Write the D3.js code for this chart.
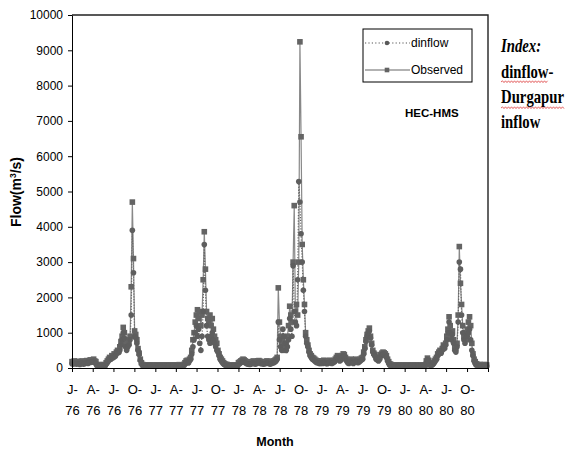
<!DOCTYPE html>
<html><head><meta charset="utf-8">
<script src="https://cdn.jsdelivr.net/npm/d3@7"></script>
<style>
body{margin:0;background:#fff}
svg{display:block}
</style>
</head><body>
<svg id="c" width="566" height="451" font-family="Liberation Sans, Arial, sans-serif"></svg>
<script>
// ---- data (5-day samples, one array per year) ----
const years = [1976, 1977, 1978, 1979, 1980];
const sampleStepDays = 5;

const obs1976 = [180,160,200,170,150,190,170,150,180,200,160,170,190,210,180,200,230,210,220,250,200,180,
  100,80,70,80,90,100,80,90,150,200,250,300,280,350,320,400,380,450,500,480,600,750,900,1150,
  1000,700,600,800,700,900,2300,4700,3100,1050,950,800,550,420,250,150,100,90,80,90,80,70,80,90,80,70,80];
const din1976 = [120,110,140,130,110,140,120,100,130,150,110,120,140,160,130,150,170,160,170,190,150,130,
  70,60,50,60,70,80,60,70,110,150,200,260,240,300,290,350,330,400,450,430,500,650,800,1000,
  850,600,500,600,650,800,1500,3900,2700,900,850,700,500,380,220,130,70,60,60,70,60,50,60,70,60,50,60];

const obs1977 = [90,80,85,80,90,85,80,75,80,90,85,80,90,85,80,80,90,85,80,85,90,95,90,85,90,100,
  150,200,220,180,250,300,500,800,1000,1300,1500,1650,1400,1600,1200,1500,2500,3860,2800,1600,
  1400,1300,1500,1200,1400,1100,900,800,700,500,400,300,250,200,150,120,100,100,90,85,80,90,80,85,90,80,85];
const din1977 = [60,55,60,55,60,55,55,50,55,60,55,55,60,55,50,55,60,55,50,55,60,65,60,55,60,70,
  110,150,170,140,200,250,400,600,800,1000,1200,900,1100,700,500,900,1600,3500,2200,1200,
  900,800,700,900,1000,800,700,600,500,450,350,250,200,150,110,90,70,70,60,55,55,60,55,55,60,55,55];

const obs1978 = [150,170,200,220,250,230,200,180,160,170,150,160,180,200,170,160,180,200,210,190,170,180,160,170,
  180,200,190,170,160,180,190,200,220,250,300,2270,1300,900,700,800,600,500,700,900,1200,1750,1500,1300,
  3000,4600,1600,1800,1500,3000,9240,6550,3500,2500,1800,1000,800,650,500,400,350,300,280,250,220,200,200,180,180];
const din1978 = [100,120,150,170,200,180,150,130,110,120,100,110,130,150,120,110,130,150,160,140,120,130,110,120,
  130,150,140,120,110,130,140,150,170,200,250,1300,800,600,500,1100,900,700,500,600,800,1400,1100,900,
  2900,1600,1300,1200,2500,5280,4700,3800,3000,2200,1600,900,700,600,450,350,300,250,230,200,170,150,150,130,130];

const obs1979 = [200,180,220,200,180,170,200,220,190,180,200,210,250,300,350,300,250,280,350,400,380,300,250,
  200,180,220,250,200,180,220,250,230,200,220,250,280,300,450,600,800,950,1050,1130,900,700,500,420,380,300,280,250,
  300,380,420,450,430,400,350,250,180,120,100,90,80,90,80,85,80,90,85,80,85,80];
const din1979 = [150,130,170,150,130,120,150,170,140,130,150,160,200,250,300,250,200,230,300,350,330,250,200,
  150,130,170,200,150,130,170,200,180,150,170,200,230,250,400,550,750,900,1000,1050,850,650,450,380,330,250,230,200,
  250,330,380,400,380,350,300,200,130,80,60,55,50,55,50,55,50,55,50,50,55,50];

const obs1980 = [90,85,80,85,90,80,85,80,90,85,80,85,90,80,85,90,85,80,90,200,280,220,120,100,120,150,200,250,
  300,400,450,500,480,550,650,600,700,900,1100,1450,1200,900,1050,800,600,550,700,1500,3440,2400,
  1800,1200,900,1000,800,1100,1300,1450,1200,700,400,250,180,120,100,90,100,90,85,90,100,90,85];
const din1980 = [60,55,50,55,60,50,55,50,60,55,50,55,60,50,55,60,55,50,60,150,230,180,80,70,80,110,150,200,
  250,350,400,450,420,500,600,550,650,800,1000,1300,1000,800,950,700,500,450,600,1300,3000,2800,
  1500,1000,800,700,900,900,1000,1100,800,500,350,200,130,80,70,60,70,60,55,60,70,60,55];

const yTicks = [0,1000,2000,3000,4000,5000,6000,7000,8000,9000,10000];
const seriesNames = ["dinflow", "Observed"];
const modelLabel = "HEC-HMS";
const noteLines = ["Index:", "dinflow-", "Durgapur", "inflow"];
const xTitle = "Month";

// ---- build series ----
function build(arrs){
  const out = [];
  years.forEach((yr, k) => arrs[k].forEach((v, i) =>
    out.push({date: d3.timeDay.offset(new Date(yr, 0, 1), i * sampleStepDays), value: v})));
  return out;
}
const observed = build([obs1976, obs1977, obs1978, obs1979, obs1980]);
const dinflow  = build([din1976, din1977, din1978, din1979, din1980]);

// ---- layout ----
const L = 72, R = 488, T = 15, B = 368;
const svg = d3.select("#c");
const x = d3.scaleTime().domain([new Date(1976,0,1), new Date(1981,0,1)]).range([L, R]);
const y = d3.scaleLinear().domain([0, 10000]).range([B, T]);

const lineGrey = "#888", markGrey = "#646464";
const ms = 5.6;

// series
const line = d3.line().x(d => x(d.date)).y(d => y(d.value));
svg.append("path").datum(observed).attr("d", line)
  .attr("fill","none").attr("stroke", lineGrey).attr("stroke-width", 1.2);
svg.append("path").datum(dinflow).attr("d", line)
  .attr("fill","none").attr("stroke", "#666").attr("stroke-width", 1.2).attr("stroke-dasharray","1.2,1.6");
svg.append("g").selectAll("rect").data(observed).join("rect")
  .attr("x", d => x(d.date) - ms/2).attr("y", d => y(d.value) - ms/2)
  .attr("width", ms).attr("height", ms).attr("fill", markGrey);
svg.append("g").selectAll("circle").data(dinflow).join("circle")
  .attr("cx", d => x(d.date)).attr("cy", d => y(d.value)).attr("r", ms/2).attr("fill", "#5e5e5e");

// frame (top and right)
svg.append("path").attr("d", `M${L},${T}H${R}V${B}`).attr("fill","none").attr("stroke","#222").attr("stroke-width",1.4);

// y axis
const gy = svg.append("g").attr("transform", `translate(${L},0)`)
  .call(d3.axisLeft(y).tickValues(yTicks).tickSize(4).tickPadding(5).tickSizeOuter(0).tickFormat(d3.format("d")));
gy.selectAll("text").attr("font-size", 12).attr("fill", "#000").attr("font-family", "Liberation Sans, Arial, sans-serif");
gy.selectAll("line,path").attr("stroke", "#000");

// x axis
const xTickVals = d3.timeMonth.every(3).range(new Date(1976,0,1), new Date(1981,0,2));
const gx = svg.append("g").attr("transform", `translate(0,${B})`)
  .call(d3.axisBottom(x).tickValues(xTickVals).tickSize(4).tickSizeOuter(0).tickFormat(""));
gx.selectAll("line,path").attr("stroke", "#000");
gx.selectAll(".tick").each(function(d){
  if (d.getFullYear() > 1980) return;
  const t = d3.select(this).append("text").attr("fill","#000").attr("font-size", 13)
    .attr("text-anchor","middle").attr("font-family", "Liberation Sans, Arial, sans-serif");
  t.append("tspan").attr("x", 0).attr("y", 26).text(d3.timeFormat("%b")(d)[0] + "-");
  t.append("tspan").attr("x", 0).attr("y", 47).text(d3.timeFormat("%y")(d));
});

// axis titles
svg.append("text").attr("x", 275).attr("y", 446).attr("text-anchor","middle")
  .attr("font-size", 12.5).attr("font-weight","bold").text(xTitle);
const yt = svg.append("text").attr("transform", "translate(21,192) rotate(-90)")
  .attr("text-anchor","middle").attr("font-size", 14).attr("font-weight","bold");
yt.append("tspan").text("Flow(m");
yt.append("tspan").attr("font-size", 8.5).attr("dy", -5.5).text("3");
yt.append("tspan").attr("dy", 5.5).text("/s)");

// legend
const lg = svg.append("g");
lg.append("rect").attr("x", 363).attr("y", 29).attr("width", 109).attr("height", 53)
  .attr("fill", "#fff").attr("stroke", "#000").attr("stroke-width", 1);
[43, 70].forEach((ly, k) => {
  lg.append("line").attr("x1", 365).attr("x2", 410).attr("y1", ly).attr("y2", ly)
    .attr("stroke", k === 0 ? "#555" : "#666").attr("stroke-width", 1.1)
    .attr("stroke-dasharray", k === 0 ? "1.2,2.2" : null);
  if (k === 0) lg.append("circle").attr("cx", 387).attr("cy", ly).attr("r", 2.3).attr("fill", "#5a5a5a");
  else lg.append("rect").attr("x", 384.7).attr("y", ly - 2.3).attr("width", 4.6).attr("height", 4.6).attr("fill", markGrey);
  lg.append("text").attr("x", 411).attr("y", ly).attr("dy", "0.35em").attr("font-size", 12)
    .attr("fill", "#000").text(seriesNames[k]);
});

svg.append("text").attr("x", 405).attr("y", 117).attr("font-size", 11.5).attr("font-weight", "bold").text(modelLabel);

// note on the right
const noteY = [52, 78, 103, 128];
noteLines.forEach((s, i) => {
  svg.append("text").attr("transform", `translate(501,${noteY[i]}) scale(0.82,1)`)
    .attr("font-family", "Liberation Serif, Times New Roman, serif")
    .attr("font-size", 18).attr("font-weight", "bold")
    .attr("font-style", i === 0 ? "italic" : "normal").text(s);
});
// spell-check squiggles
function squiggle(x0, x1, yy){
  let p = `M${x0},${yy}`; let up = true;
  for (let xx = x0 + 1.5; xx <= x1; xx += 1.5){ p += `L${xx},${yy + (up ? -1.2 : 0.6)}`; up = !up; }
  return p;
}
svg.append("path").attr("d", squiggle(501, 548, 82)).attr("fill","none").attr("stroke","#e05050").attr("stroke-width",0.9);
svg.append("path").attr("d", squiggle(501, 564, 108)).attr("fill","none").attr("stroke","#e05050").attr("stroke-width",0.9);
</script>
</body></html>
